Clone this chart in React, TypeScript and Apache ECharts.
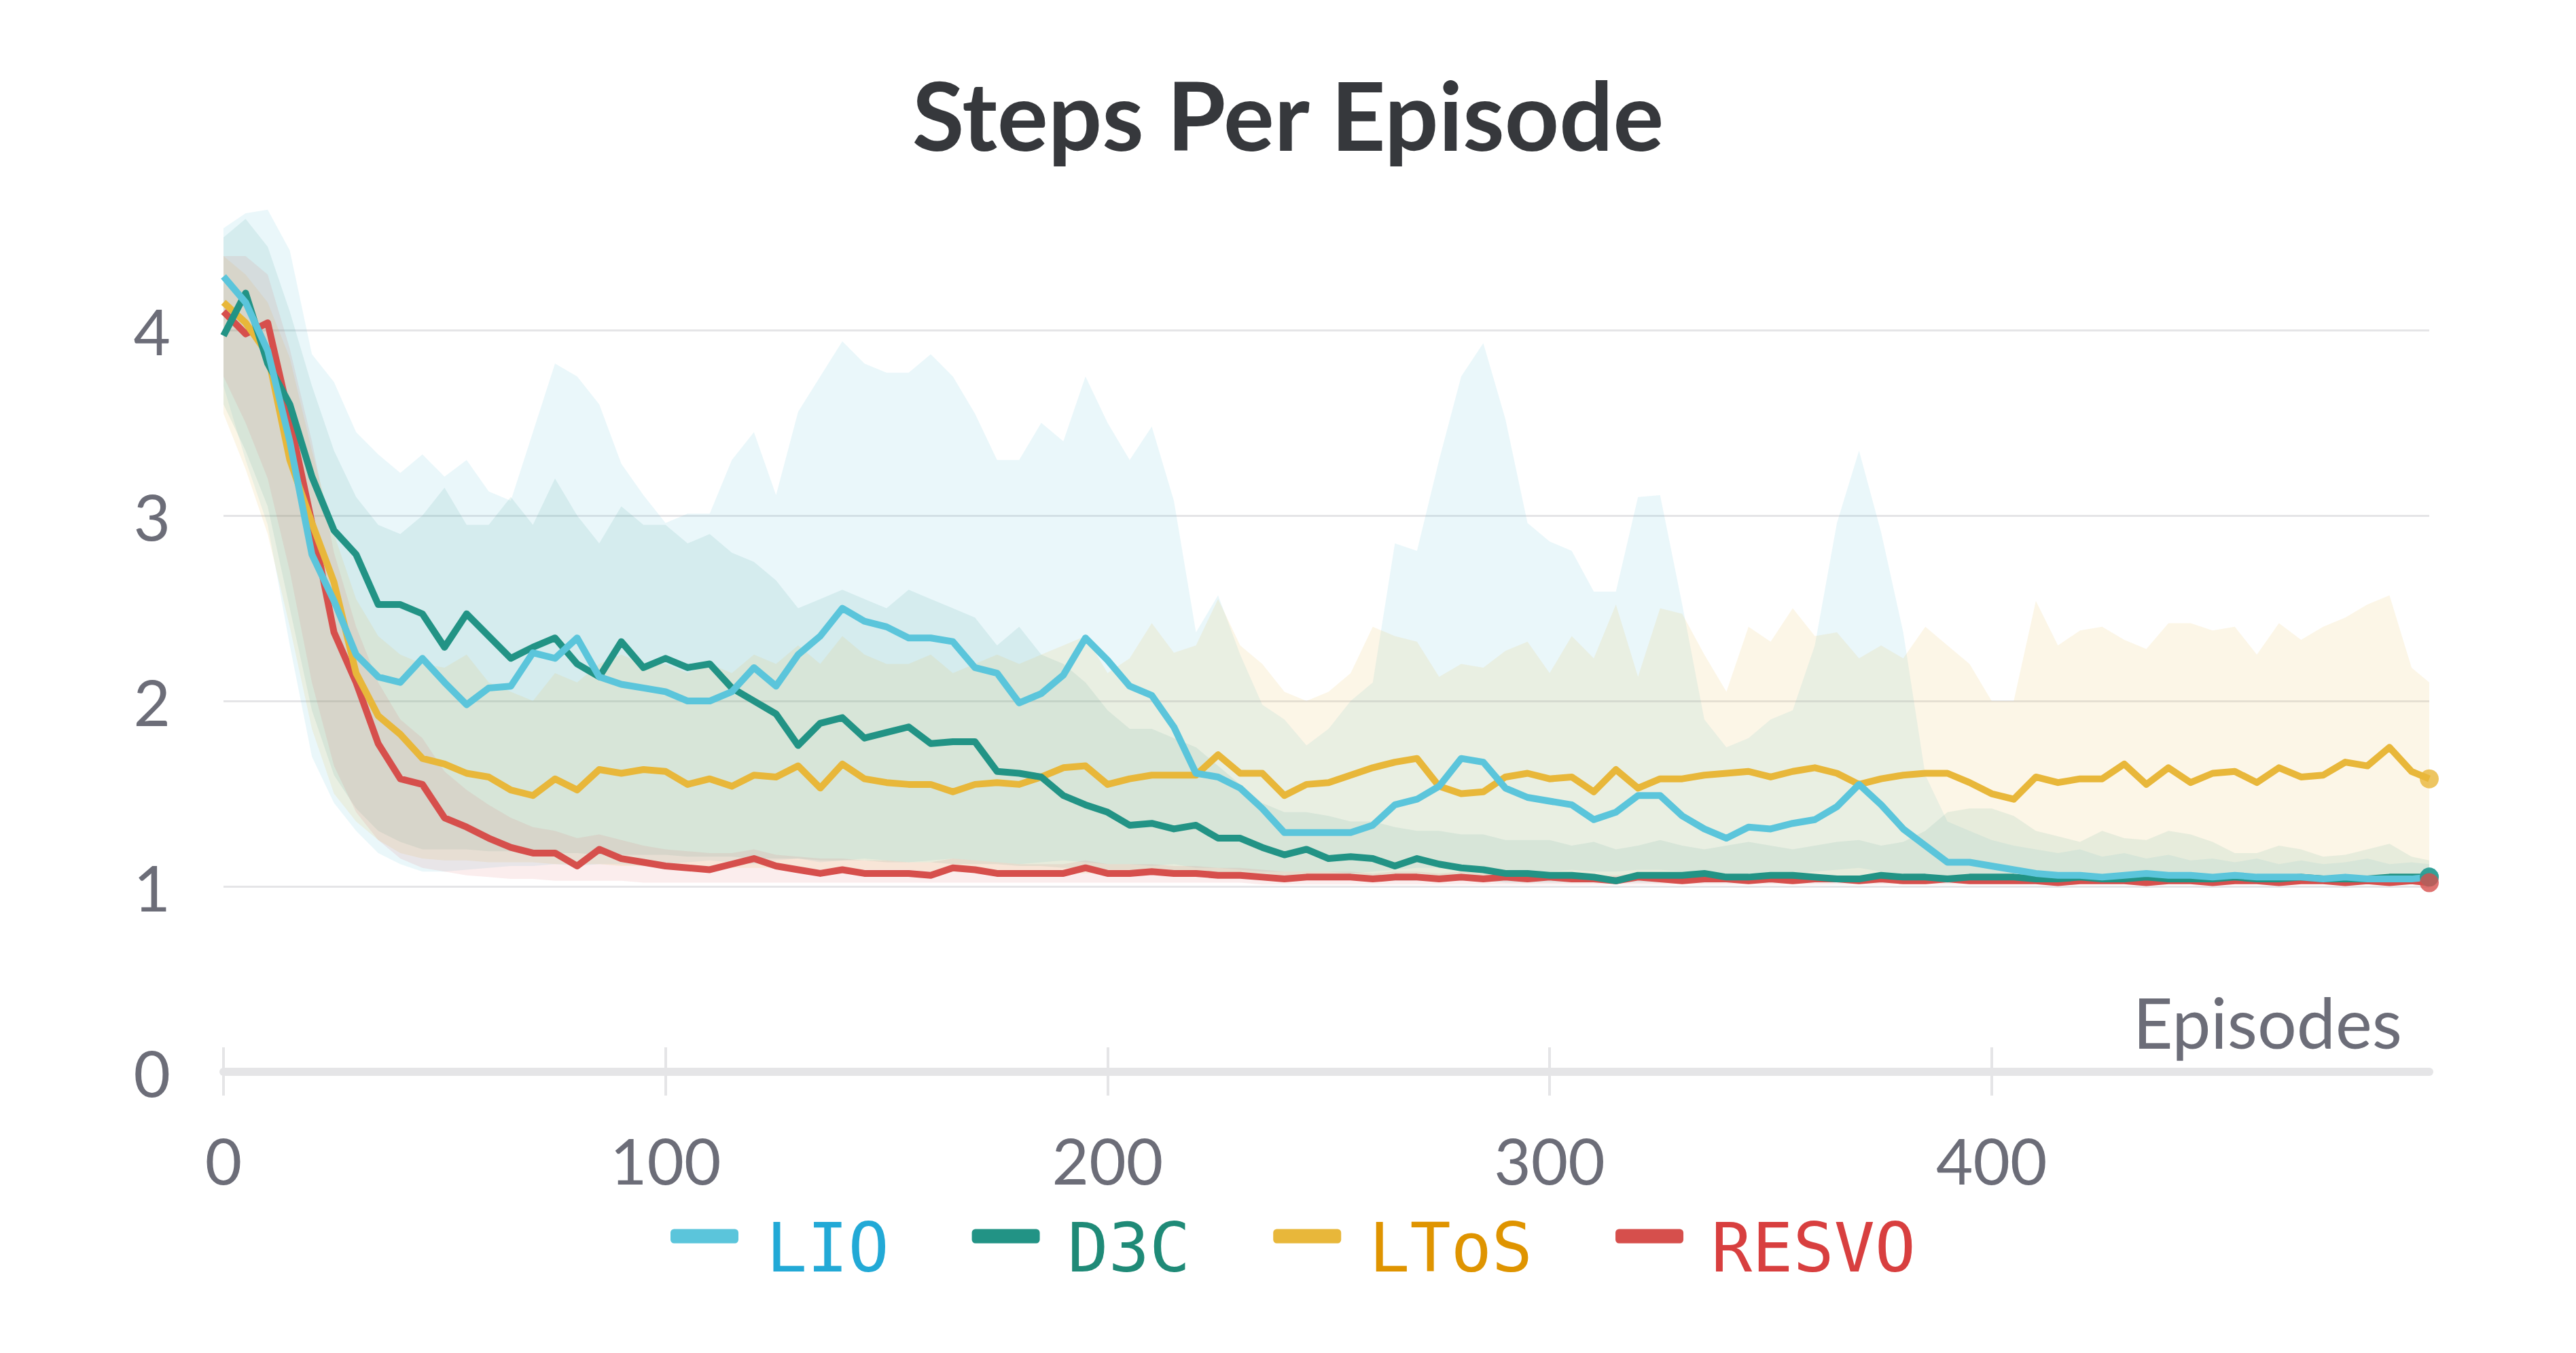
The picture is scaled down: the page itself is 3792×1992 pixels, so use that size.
import React, { useEffect, useRef } from "react";
import * as echarts from "echarts";

const EPISODES = [
  0, 5, 10, 15, 20, 25, 30, 35, 40, 45,
  50, 55, 60, 65, 70, 75, 80, 85, 90, 95,
  100, 105, 110, 115, 120, 125, 130, 135, 140, 145,
  150, 155, 160, 165, 170, 175, 180, 185, 190, 195,
  200, 205, 210, 215, 220, 225, 230, 235, 240, 245,
  250, 255, 260, 265, 270, 275, 280, 285, 290, 295,
  300, 305, 310, 315, 320, 325, 330, 335, 340, 345,
  350, 355, 360, 365, 370, 375, 380, 385, 390, 395,
  400, 405, 410, 415, 420, 425, 430, 435, 440, 445,
  450, 455, 460, 465, 470, 475, 480, 485, 490, 495,
  499,
];

const LIO = [
  4.29, 4.15, 3.89, 3.40, 2.79, 2.54, 2.25, 2.13, 2.10, 2.23,
  2.10, 1.98, 2.07, 2.08, 2.26, 2.23, 2.34, 2.13, 2.09, 2.07,
  2.05, 2.00, 2.00, 2.05, 2.18, 2.08, 2.25, 2.35, 2.50, 2.43,
  2.40, 2.34, 2.34, 2.32, 2.18, 2.15, 1.99, 2.04, 2.14, 2.34,
  2.22, 2.08, 2.03, 1.86, 1.61, 1.59, 1.53, 1.42, 1.29, 1.29,
  1.29, 1.29, 1.33, 1.44, 1.47, 1.54, 1.69, 1.67, 1.53, 1.48,
  1.46, 1.44, 1.36, 1.40, 1.49, 1.49, 1.38, 1.31, 1.26, 1.32,
  1.31, 1.34, 1.36, 1.43, 1.55, 1.44, 1.31, 1.22, 1.13, 1.13,
  1.11, 1.09, 1.07, 1.06, 1.06, 1.05, 1.06, 1.07, 1.06, 1.06,
  1.05, 1.06, 1.05, 1.05, 1.05, 1.04, 1.05, 1.04, 1.04, 1.04,
  1.05,
];
const LIO_HI = [
  4.55, 4.63, 4.65, 4.43, 3.87, 3.72, 3.45, 3.33, 3.23, 3.33,
  3.21, 3.30, 3.13, 3.08, 3.45, 3.82, 3.75, 3.60, 3.28, 3.11,
  2.96, 3.01, 3.01, 3.30, 3.45, 3.11, 3.56, 3.75, 3.94, 3.82,
  3.77, 3.77, 3.87, 3.75, 3.55, 3.30, 3.30, 3.50, 3.40, 3.75,
  3.50, 3.30, 3.48, 3.08, 2.37, 2.57, 2.25, 1.98, 1.90, 1.76,
  1.85, 2.00, 2.10, 2.85, 2.81, 3.30, 3.75, 3.93, 3.52, 2.96,
  2.86, 2.81, 2.59, 2.59, 3.10, 3.11, 2.52, 1.90, 1.75, 1.80,
  1.90, 1.95, 2.30, 2.96, 3.35, 2.91, 2.37, 1.60, 1.35, 1.30,
  1.25, 1.22, 1.20, 1.18, 1.20, 1.16, 1.18, 1.15, 1.17, 1.14,
  1.15, 1.13, 1.15, 1.12, 1.14, 1.12, 1.13, 1.15, 1.12, 1.13,
  1.12,
];
const LIO_LO = [
  3.70, 3.30, 2.95, 2.30, 1.70, 1.45, 1.30, 1.18, 1.12, 1.08,
  1.08, 1.09, 1.10, 1.11, 1.11, 1.12, 1.11, 1.12, 1.12, 1.11,
  1.12, 1.13, 1.14, 1.13, 1.12, 1.14, 1.15, 1.13, 1.14, 1.15,
  1.14, 1.13, 1.14, 1.15, 1.14, 1.13, 1.12, 1.13, 1.14, 1.13,
  1.12, 1.12, 1.11, 1.12, 1.10, 1.10, 1.09, 1.08, 1.08, 1.08,
  1.08, 1.07, 1.08, 1.09, 1.10, 1.10, 1.11, 1.10, 1.09, 1.08,
  1.08, 1.09, 1.08, 1.08, 1.09, 1.09, 1.08, 1.07, 1.07, 1.07,
  1.07, 1.07, 1.08, 1.09, 1.10, 1.08, 1.06, 1.04, 1.03, 1.03,
  1.02, 1.02, 1.02, 1.02, 1.02, 1.02, 1.02, 1.02, 1.02, 1.02,
  1.02, 1.02, 1.02, 1.02, 1.02, 1.02, 1.02, 1.02, 1.02, 1.02,
  1.02,
];

const D3C = [
  3.97, 4.20, 3.82, 3.60, 3.21, 2.92, 2.79, 2.52, 2.52, 2.47,
  2.29, 2.47, 2.35, 2.23, 2.29, 2.34, 2.20, 2.13, 2.32, 2.18,
  2.23, 2.18, 2.20, 2.07, 2.00, 1.93, 1.76, 1.88, 1.91, 1.80,
  1.83, 1.86, 1.77, 1.78, 1.78, 1.62, 1.61, 1.59, 1.49, 1.44,
  1.40, 1.33, 1.34, 1.31, 1.33, 1.26, 1.26, 1.21, 1.17, 1.20,
  1.15, 1.16, 1.15, 1.11, 1.15, 1.12, 1.10, 1.09, 1.07, 1.07,
  1.06, 1.06, 1.05, 1.03, 1.06, 1.06, 1.06, 1.07, 1.05, 1.05,
  1.06, 1.06, 1.05, 1.04, 1.04, 1.06, 1.05, 1.05, 1.04, 1.05,
  1.05, 1.05, 1.04, 1.04, 1.05, 1.04, 1.04, 1.05, 1.04, 1.04,
  1.04, 1.05, 1.04, 1.04, 1.05, 1.04, 1.04, 1.04, 1.05, 1.05,
  1.05,
];
const D3C_HI = [
  4.50, 4.60, 4.45, 4.10, 3.70, 3.35, 3.10, 2.95, 2.90, 3.00,
  3.15, 2.95, 2.95, 3.10, 2.95, 3.20, 3.00, 2.85, 3.05, 2.95,
  2.95, 2.85, 2.90, 2.80, 2.75, 2.65, 2.50, 2.55, 2.60, 2.55,
  2.50, 2.60, 2.55, 2.50, 2.45, 2.30, 2.40, 2.25, 2.20, 2.10,
  1.95, 1.85, 1.85, 1.80, 1.75, 1.65, 1.55, 1.45, 1.40, 1.40,
  1.38, 1.35, 1.35, 1.32, 1.30, 1.30, 1.28, 1.28, 1.25, 1.25,
  1.25, 1.22, 1.24, 1.20, 1.22, 1.25, 1.22, 1.20, 1.22, 1.24,
  1.22, 1.20, 1.22, 1.24, 1.25, 1.22, 1.24, 1.30, 1.40, 1.42,
  1.42, 1.38, 1.30, 1.27, 1.24, 1.30, 1.26, 1.25, 1.30, 1.28,
  1.24, 1.18, 1.18, 1.22, 1.20, 1.16, 1.17, 1.20, 1.23, 1.16,
  1.14,
];
const D3C_LO = [
  3.60, 3.35, 3.05, 2.50, 1.95, 1.60, 1.42, 1.30, 1.24, 1.20,
  1.20, 1.20, 1.19, 1.19, 1.18, 1.18, 1.18, 1.17, 1.17, 1.17,
  1.17, 1.16, 1.16, 1.16, 1.15, 1.15, 1.15, 1.14, 1.14, 1.14,
  1.13, 1.13, 1.13, 1.12, 1.12, 1.12, 1.11, 1.11, 1.10, 1.10,
  1.09, 1.09, 1.08, 1.08, 1.07, 1.07, 1.06, 1.05, 1.05, 1.04,
  1.04, 1.04, 1.03, 1.03, 1.03, 1.03, 1.03, 1.03, 1.02, 1.02,
  1.02, 1.02, 1.02, 1.02, 1.02, 1.02, 1.02, 1.02, 1.02, 1.02,
  1.02, 1.02, 1.02, 1.02, 1.02, 1.02, 1.02, 1.02, 1.02, 1.02,
  1.02, 1.02, 1.02, 1.02, 1.02, 1.02, 1.02, 1.02, 1.02, 1.02,
  1.02, 1.02, 1.02, 1.02, 1.02, 1.02, 1.02, 1.02, 1.02, 1.02,
  1.02,
];

const LTOS = [
  4.15, 4.04, 3.87, 3.30, 2.96, 2.64, 2.15, 1.92, 1.82, 1.69,
  1.66, 1.61, 1.59, 1.52, 1.49, 1.58, 1.52, 1.63, 1.61, 1.63,
  1.62, 1.55, 1.58, 1.54, 1.60, 1.59, 1.65, 1.53, 1.66, 1.58,
  1.56, 1.55, 1.55, 1.51, 1.55, 1.56, 1.55, 1.59, 1.64, 1.65,
  1.55, 1.58, 1.60, 1.60, 1.60, 1.71, 1.61, 1.61, 1.49, 1.55,
  1.56, 1.60, 1.64, 1.67, 1.69, 1.54, 1.50, 1.51, 1.59, 1.61,
  1.58, 1.59, 1.51, 1.63, 1.53, 1.58, 1.58, 1.60, 1.61, 1.62,
  1.59, 1.62, 1.64, 1.61, 1.55, 1.58, 1.60, 1.61, 1.61, 1.56,
  1.50, 1.47, 1.59, 1.56, 1.58, 1.58, 1.66, 1.55, 1.64, 1.56,
  1.61, 1.62, 1.56, 1.64, 1.59, 1.60, 1.67, 1.65, 1.75, 1.62,
  1.58,
];
const LTOS_HI = [
  4.40, 4.30, 4.15, 3.85, 3.35, 2.90, 2.55, 2.35, 2.25, 2.20,
  2.18, 2.25, 2.10, 2.05, 2.00, 2.15, 2.10, 2.20, 2.25, 2.20,
  2.20, 2.15, 2.20, 2.15, 2.25, 2.20, 2.30, 2.20, 2.35, 2.25,
  2.20, 2.20, 2.25, 2.15, 2.20, 2.25, 2.20, 2.25, 2.30, 2.35,
  2.15, 2.23, 2.42, 2.26, 2.30, 2.55, 2.30, 2.20, 2.05, 2.00,
  2.05, 2.15, 2.40, 2.35, 2.32, 2.13, 2.20, 2.18, 2.27, 2.32,
  2.15, 2.35, 2.23, 2.52, 2.13, 2.50, 2.47, 2.25, 2.05, 2.40,
  2.32, 2.50, 2.35, 2.37, 2.23, 2.30, 2.23, 2.40, 2.30, 2.20,
  2.00, 2.00, 2.54, 2.30, 2.38, 2.40, 2.33, 2.28, 2.42, 2.42,
  2.38, 2.40, 2.25, 2.42, 2.33, 2.40, 2.45, 2.52, 2.57, 2.18,
  2.10,
];
const LTOS_LO = [
  3.55, 3.25, 2.90, 2.40, 1.85, 1.50, 1.35, 1.25, 1.18, 1.15,
  1.14, 1.14, 1.13, 1.13, 1.13, 1.12, 1.12, 1.12, 1.11, 1.11,
  1.11, 1.11, 1.10, 1.10, 1.10, 1.10, 1.10, 1.09, 1.09, 1.09,
  1.09, 1.09, 1.08, 1.08, 1.08, 1.08, 1.08, 1.08, 1.07, 1.07,
  1.07, 1.07, 1.07, 1.07, 1.06, 1.06, 1.06, 1.06, 1.06, 1.06,
  1.06, 1.06, 1.06, 1.05, 1.05, 1.05, 1.05, 1.05, 1.05, 1.05,
  1.05, 1.06, 1.05, 1.05, 1.06, 1.05, 1.05, 1.06, 1.05, 1.05,
  1.05, 1.05, 1.06, 1.05, 1.05, 1.05, 1.06, 1.05, 1.05, 1.05,
  1.05, 1.05, 1.05, 1.05, 1.05, 1.05, 1.05, 1.05, 1.05, 1.05,
  1.05, 1.05, 1.05, 1.05, 1.05, 1.05, 1.05, 1.05, 1.05, 1.05,
  1.05,
];

const RESVO = [
  4.10, 3.98, 4.04, 3.52, 2.96, 2.37, 2.10, 1.77, 1.58, 1.55,
  1.37, 1.32, 1.26, 1.21, 1.18, 1.18, 1.11, 1.20, 1.15, 1.13,
  1.11, 1.10, 1.09, 1.12, 1.15, 1.11, 1.09, 1.07, 1.09, 1.07,
  1.07, 1.07, 1.06, 1.10, 1.09, 1.07, 1.07, 1.07, 1.07, 1.10,
  1.07, 1.07, 1.08, 1.07, 1.07, 1.06, 1.06, 1.05, 1.04, 1.05,
  1.05, 1.05, 1.04, 1.05, 1.05, 1.04, 1.05, 1.04, 1.05, 1.04,
  1.05, 1.04, 1.04, 1.03, 1.05, 1.04, 1.03, 1.04, 1.04, 1.03,
  1.04, 1.03, 1.04, 1.04, 1.03, 1.04, 1.03, 1.03, 1.04, 1.03,
  1.03, 1.03, 1.03, 1.02, 1.03, 1.03, 1.03, 1.02, 1.03, 1.03,
  1.02, 1.03, 1.03, 1.02, 1.03, 1.03, 1.02, 1.03, 1.02, 1.03,
  1.02,
];
const RESVO_HI = [
  4.40, 4.40, 4.30, 3.90, 3.40, 2.80, 2.40, 2.10, 1.90, 1.80,
  1.62, 1.52, 1.44, 1.37, 1.32, 1.30, 1.26, 1.28, 1.25, 1.22,
  1.20, 1.19, 1.18, 1.18, 1.20, 1.17, 1.16, 1.15, 1.15, 1.14,
  1.14, 1.13, 1.13, 1.15, 1.14, 1.13, 1.12, 1.12, 1.12, 1.14,
  1.12, 1.12, 1.12, 1.11, 1.11, 1.10, 1.10, 1.09, 1.08, 1.08,
  1.08, 1.08, 1.07, 1.08, 1.08, 1.07, 1.08, 1.07, 1.08, 1.07,
  1.07, 1.07, 1.06, 1.06, 1.07, 1.06, 1.06, 1.06, 1.06, 1.06,
  1.06, 1.05, 1.06, 1.06, 1.05, 1.06, 1.05, 1.05, 1.06, 1.05,
  1.05, 1.05, 1.05, 1.04, 1.05, 1.05, 1.05, 1.04, 1.05, 1.05,
  1.04, 1.05, 1.05, 1.04, 1.05, 1.05, 1.04, 1.05, 1.04, 1.05,
  1.04,
];
const RESVO_LO = [
  3.75, 3.50, 3.20, 2.70, 2.10, 1.65, 1.40, 1.25, 1.15, 1.10,
  1.08, 1.06, 1.05, 1.04, 1.04, 1.03, 1.03, 1.03, 1.03, 1.02,
  1.02, 1.02, 1.02, 1.02, 1.02, 1.02, 1.02, 1.02, 1.02, 1.02,
  1.02, 1.02, 1.02, 1.02, 1.02, 1.02, 1.02, 1.02, 1.02, 1.02,
  1.02, 1.02, 1.02, 1.02, 1.02, 1.02, 1.02, 1.01, 1.01, 1.01,
  1.01, 1.01, 1.01, 1.01, 1.01, 1.01, 1.01, 1.01, 1.01, 1.01,
  1.01, 1.01, 1.01, 1.01, 1.01, 1.01, 1.01, 1.01, 1.01, 1.01,
  1.01, 1.01, 1.01, 1.01, 1.01, 1.01, 1.01, 1.01, 1.01, 1.01,
  1.01, 1.01, 1.01, 1.01, 1.01, 1.01, 1.01, 1.01, 1.01, 1.01,
  1.01, 1.01, 1.01, 1.01, 1.01, 1.01, 1.01, 1.01, 1.01, 1.01,
  1.01,
];

const X_TICKS = [0, 100, 200, 300, 400];
const Y_TICKS = [0, 1, 2, 3, 4];

const SERIES = [
  { name: "LIO", line: LIO, hi: LIO_HI, lo: LIO_LO, color: "#5bc5db", text: "#22a9d6", band: "rgba(91,197,219,0.13)" },
  { name: "D3C", line: D3C, hi: D3C_HI, lo: D3C_LO, color: "#229385", text: "#1f8a77", band: "rgba(34,147,133,0.10)" },
  { name: "LToS", line: LTOS, hi: LTOS_HI, lo: LTOS_LO, color: "#e8b73a", text: "#df9400", band: "rgba(232,183,58,0.12)" },
  { name: "RESVO", line: RESVO, hi: RESVO_HI, lo: RESVO_LO, color: "#d64f4c", text: "#d83f3f", band: "rgba(214,79,76,0.10)" },
];

const LABEL_COLOR = "#6c6d78";
const LIGHT = "#e5e5e7";
const SANS = "Lato, 'Open Sans', sans-serif";
const MONO = "'DejaVu Sans Mono', monospace";

function buildOption() {
  const last = EPISODES.length - 1;
  const bands = SERIES.map((s) => ({
    type: "custom",
    name: s.name + " band",
    silent: true,
    z: 1,
    data: [[EPISODES[0], s.lo[0]]],
    renderItem: (params: any, api: any) => {
      if (params.dataIndex !== 0) return null;
      const pts: number[][] = [];
      for (let i = 0; i < EPISODES.length; i++) pts.push(api.coord([EPISODES[i], s.hi[i]]));
      for (let i = EPISODES.length - 1; i >= 0; i--) pts.push(api.coord([EPISODES[i], s.lo[i]]));
      return { type: "polygon", shape: { points: pts }, style: { fill: s.band } };
    },
  }));
  const lines = [...SERIES].reverse().map((s) => ({
    type: "line",
    name: s.name,
    data: EPISODES.map((x, i) => [x, s.line[i]]),
    showSymbol: false,
    symbol: "none",
    silent: true,
    z: 3,
    lineStyle: { color: s.color, width: 10, join: "round" },
    itemStyle: { color: s.color },
  }));
  const dots = {
    type: "scatter",
    name: "ends",
    silent: true,
    z: 5,
    symbolSize: 28,
    data: SERIES.map((s) => ({ value: [EPISODES[last], s.line[last]], itemStyle: { color: s.color } })),
  };

  return {
    animation: false,
    backgroundColor: "#ffffff",
    title: {
      text: "Steps Per Episode",
      left: "center",
      top: 93,
      textStyle: { fontFamily: SANS, fontWeight: "bold", fontSize: 140, color: "#36383c" },
    },
    legend: {
      data: SERIES.map((s) => ({ name: s.name, itemStyle: { color: s.color }, textStyle: { color: s.text } })),
      icon: "roundRect",
      itemWidth: 100,
      itemHeight: 21,
      itemGap: 122,
      left: 987,
      top: 1753,
      padding: 0,
      selectedMode: false,
      formatter: (name: string) => "{t|" + name + "}",
      textStyle: {
        fontFamily: MONO,
        fontSize: 100,
        rich: { t: { fontFamily: MONO, fontSize: 100, lineHeight: 100, padding: [34, 0, 0, 36] } },
      },
    },
    grid: { left: 329, right: 216, top: 295, bottom: 414, containLabel: false },
    xAxis: [
      {
        type: "value",
        min: 0,
        max: 499,
        position: "bottom",
        name: "Episodes",
        nameLocation: "end",
        nameGap: -40,
        nameTextStyle: {
          fontFamily: SANS,
          fontSize: 102,
          color: LABEL_COLOR,
          align: "right",
          verticalAlign: "bottom",
          padding: [0, 0, 23, 0],
        },
        axisLine: { show: true, onZero: false, lineStyle: { color: LIGHT, width: 12 } },
        axisTick: { show: true, inside: false, length: 35, customValues: X_TICKS, lineStyle: { color: LIGHT, width: 4 } },
        axisLabel: {
          customValues: X_TICKS,
          margin: 82,
          fontFamily: SANS,
          fontSize: 94,
          color: LABEL_COLOR,
          formatter: (v: number) => (X_TICKS.includes(v) ? String(v) : ""),
        },
        splitLine: { show: false },
      },
      {
        type: "value",
        min: 0,
        max: 499,
        position: "bottom",
        axisLine: { show: false, onZero: false },
        axisTick: { show: true, inside: true, length: 36, customValues: X_TICKS, lineStyle: { color: LIGHT, width: 4 } },
        axisLabel: { show: false },
        splitLine: { show: false },
      },
    ],
    yAxis: {
      type: "value",
      min: 0,
      max: 4.7,
      interval: 1,
      axisLine: { show: false },
      axisTick: { show: false },
      axisLabel: {
        customValues: Y_TICKS,
        margin: 78,
        fontFamily: SANS,
        fontSize: 94,
        color: LABEL_COLOR,
        formatter: (v: number) => (Y_TICKS.includes(v) ? String(v) : ""),
      },
      splitLine: { show: true, showMinLine: false, showMaxLine: false, lineStyle: { color: LIGHT, width: 3 } },
    },
    series: [...bands, ...lines, dots],
  };
}

export default function App() {
  const ref = useRef<HTMLDivElement>(null);
  useEffect(() => {
    document.body.style.margin = "0";
    document.body.style.overflow = "hidden";
    if (!ref.current) return;
    const chart = echarts.init(ref.current, null, { renderer: "svg" });
    chart.setOption(buildOption() as any);
    return () => chart.dispose();
  }, []);
  return <div ref={ref} style={{ width: 3792, height: 1992 }} />;
}
